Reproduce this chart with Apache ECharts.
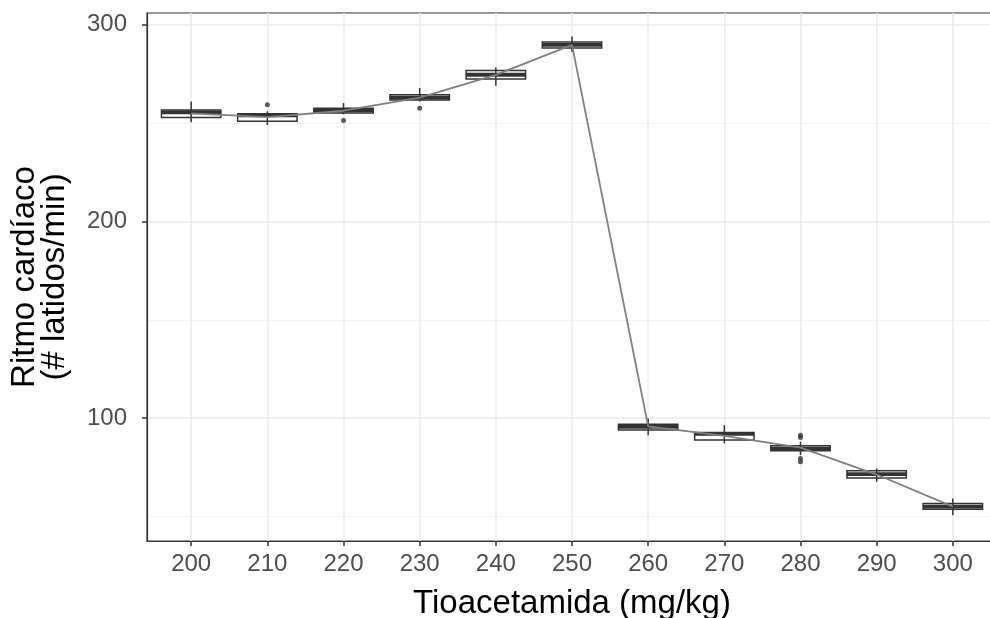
<!DOCTYPE html>
<html>
<head>
<meta charset="utf-8">
<script src="https://cdn.jsdelivr.net/npm/echarts@6/dist/echarts.min.js"></script>
<style>
  html, body { margin: 0; padding: 0; background: #fff; }
  #chart { width: 990px; height: 618px; }
</style>
</head>
<body>
<div id="chart"></div>
<script>
// dosis de tioacetamida (mg/kg)
const doses = [200, 210, 220, 230, 240, 250, 260, 270, 280, 290, 300];
// resumen de cajas: bigote inferior, Q1, mediana, Q3, bigote superior
const whiskerLow  = [250.5, 249.0, 254.5, 261.0, 269.0, 286.3, 91.3, 87.1, 81.2, 67.6, 50.6];
const q1          = [252.8, 251.0, 255.2, 261.8, 272.4, 288.2, 93.9, 88.8, 83.4, 69.6, 53.6];
const medians     = [255.5, 254.0, 256.5, 263.0, 274.6, 289.8, 95.5, 92.0, 84.5, 71.5, 55.0];
const q3          = [256.7, 254.8, 257.6, 264.4, 276.7, 291.2, 96.9, 92.7, 85.9, 73.2, 56.6];
const whiskerHigh = [261.0, 256.0, 260.2, 267.8, 278.3, 294.0, 99.8, 96.4, 88.0, 74.4, 59.1];
// medias unidas por la línea
const means = [255.0, 253.0, 256.3, 263.0, 274.5, 289.8, 95.8, 91.0, 85.0, 71.3, 55.0];
// valores atípicos [dosis, ritmo]
const outliers = [[210, 259.3], [220, 251.3], [230, 257.6], [280, 91.3], [280, 90.1], [280, 79.5], [280, 77.8]];
// marcas de los ejes
const xTicks = doses;
const yTicks = [100, 200, 300];
const yMinorGrid = [50, 150, 250];

const boxWidth = 7.8;   // en unidades del eje x
const ink = '#333333';

let chart = echarts.init(document.getElementById('chart'), null, { renderer: 'canvas' });

/**dibuja una caja con su bigote*/
function renderBox(params, api) {
    let x = api.value(0);
    let pt = (v) => api.coord([x, v]);
    let hw = api.size([boxWidth, 0])[0] / 2;
    let lo = pt(api.value(1)), b1 = pt(api.value(2)), md = pt(api.value(3)),
        b3 = pt(api.value(4)), hi = pt(api.value(5));
    return {
        type: 'group',
        children: [
            {
                type: 'rect',
                shape: { x: b3[0] - hw, y: b3[1], width: hw * 2, height: b1[1] - b3[1] },
                style: { fill: '#ffffff', stroke: ink, lineWidth: 1.5 }
            },
            {
                type: 'line',
                shape: { x1: md[0] - hw, y1: md[1], x2: md[0] + hw, y2: md[1] },
                style: { stroke: ink, lineWidth: 3.8 }
            },
            {
                type: 'line',
                shape: { x1: lo[0], y1: lo[1], x2: hi[0], y2: hi[1] },
                style: { stroke: ink, lineWidth: 1.5 }
            }
        ]
    };
}

let boxData = doses.map((d, i) => [d, whiskerLow[i], q1[i], medians[i], q3[i], whiskerHigh[i]]);
let meanData = doses.map((d, i) => [d, means[i]]);

let gridLines = [];
yMinorGrid.forEach(v => gridLines.push({ yAxis: v, lineStyle: { type: 'solid', color: '#f2f2f2', width: 1 } }));
yTicks.forEach(v => gridLines.push({ yAxis: v, lineStyle: { type: 'solid', color: '#ebebeb', width: 1.6 } }));
xTicks.forEach(v => gridLines.push({ xAxis: v, lineStyle: { type: 'solid', color: '#ebebeb', width: 1.6 } }));

let option = {
    animation: false,
    backgroundColor: '#ffffff',
    grid: {
        left: 147, top: 13, width: 850, height: 528,
        outerBoundsMode: 'none',
        containLabel: false,
        show: true, borderColor: ink, borderWidth: 1.2, backgroundColor: 'transparent'
    },
    xAxis: {
        type: 'value',
        min: 194.2, max: 305.8,
        name: 'Tioacetamida (mg/kg)',
        nameLocation: 'middle',
        nameGap: 46,
        nameTextStyle: { fontFamily: 'Liberation Sans', fontSize: 33, color: '#000000' },
        axisLine: { show: true, lineStyle: { color: ink, width: 1.2 } },
        axisTick: { show: true, customValues: xTicks, length: 5, lineStyle: { color: ink, width: 1.5 } },
        axisLabel: { customValues: xTicks, margin: 11, fontFamily: 'Liberation Sans', fontSize: 24, color: '#4d4d4d' },
        splitLine: { show: false }
    },
    yAxis: {
        type: 'value',
        min: 37.5, max: 306,
        name: 'Ritmo cardíaco\n(# latidos/min)',
        nameLocation: 'middle',
        nameGap: 77,
        nameRotate: 90,
        nameTextStyle: { fontFamily: 'Liberation Sans', fontSize: 33, color: '#000000', lineHeight: 30, align: 'center' },
        axisLine: { show: true, lineStyle: { color: ink, width: 1.2 } },
        axisTick: { show: true, customValues: yTicks, length: 5, lineStyle: { color: ink, width: 1.5 } },
        axisLabel: { customValues: yTicks, margin: 20, fontFamily: 'Liberation Sans', fontSize: 24, color: '#4d4d4d' },
        splitLine: { show: false }
    },
    series: [
        {
            name: 'grid',
            type: 'line',
            data: [],
            z: 0,
            silent: true,
            markLine: { silent: true, z: 0, symbol: 'none', label: { show: false }, animation: false, data: gridLines }
        },
        {
            name: 'cajas',
            type: 'custom',
            renderItem: renderBox,
            encode: { x: 0, y: [1, 2, 3, 4, 5] },
            data: boxData,
            z: 2
        },
        {
            name: 'atípicos',
            type: 'scatter',
            data: outliers,
            symbolSize: 5,
            itemStyle: { color: ink },
            z: 3
        },
        {
            name: 'media',
            type: 'line',
            data: meanData,
            symbol: 'none',
            lineStyle: { color: '#7f7f7f', width: 1.8 },
            z: 4
        }
    ]
};
chart.setOption(option);
</script>
</body>
</html>
